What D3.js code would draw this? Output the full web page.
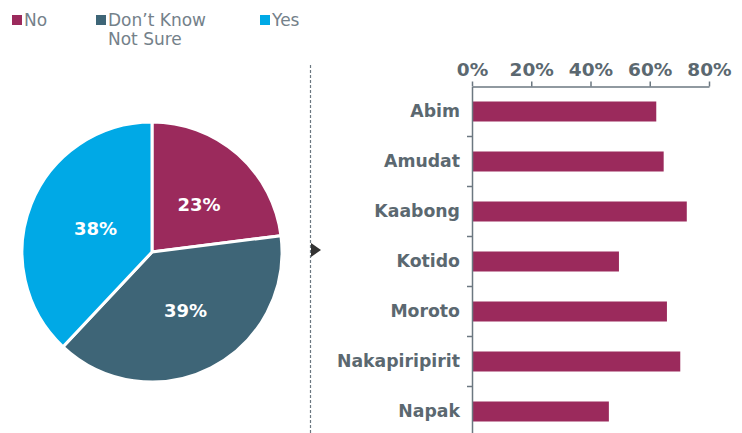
<!DOCTYPE html>
<html>
<head>
<meta charset="utf-8">
<script src="https://cdn.jsdelivr.net/npm/d3@7"></script>
<style>
  body { margin: 0; background: #fff; }
  svg { display: block; font-family: "DejaVu Sans", Verdana, sans-serif; }
</style>
</head>
<body>
<div id="chart"></div>
<script>
// Pie data
const pieLabels = ['No', 'Don\u2019t Know\nNot Sure', 'Yes'];
const pieValues = [23, 39, 38];
const pieColors = ['#9b2a5c', '#3e6577', '#00a9e6'];

// Bar data
const districts = ['Abim', 'Amudat', 'Kaabong', 'Kotido', 'Moroto', 'Nakapiripirit', 'Napak'];
const districtValues = [62.2, 64.7, 72.5, 49.6, 65.8, 70.3, 46.2];
const xTicks = [0, 20, 40, 60, 80];

const W = 742, H = 433;
const textGray = '#5b6870';
const legendGray = '#74818a';
const axisGray = '#6b7780';

const svg = d3.select('#chart')
    .append('svg')
    .attr('width', W)
    .attr('height', H);

// Legend
const legendX = [12, 96, 260];
const legend = svg.selectAll('.legend')
    .data(pieLabels)
    .enter()
    .append('g')
    .attr('class', 'legend')
    .attr('transform', (d, i) => `translate(${legendX[i]},0)`);

legend.append('rect')
    .attr('x', 0)
    .attr('y', 15)
    .attr('width', 10)
    .attr('height', 10)
    .attr('fill', (d, i) => pieColors[i]);

legend.append('text')
    .attr('x', 12)
    .attr('y', 26)
    .style('font-size', '17px')
    .style('fill', legendGray)
    .selectAll('tspan')
    .data(d => d.split('\n'))
    .enter()
    .append('tspan')
    .attr('x', 12)
    .attr('dy', (d, i) => i === 0 ? 0 : 19)
    .text(d => d);

// Pie
const radius = 130;
const pieG = svg.append('g')
    .attr('transform', 'translate(152,252)');

const pie = d3.pie().sort(null).value(d => d);
const arc = d3.arc().innerRadius(0).outerRadius(radius);

const arcs = pie(pieValues);

pieG.selectAll('path')
    .data(arcs)
    .enter()
    .append('path')
    .attr('d', arc)
    .attr('fill', (d, i) => pieColors[i])
    .attr('stroke', '#fff')
    .attr('stroke-width', 3);

// Labels sit a little right of the centroid, as in the original
pieG.selectAll('.pie-label')
    .data(arcs)
    .enter()
    .append('text')
    .attr('class', 'pie-label')
    .attr('transform', d => {
        const c = arc.centroid(d);
        return `translate(${c[0] + 4},${c[1] + 1})`;
    })
    .attr('dy', '0.35em')
    .attr('text-anchor', 'middle')
    .style('font-size', '18px')
    .style('font-weight', 'bold')
    .style('fill', '#fff')
    .text(d => d.data + '%');

// Dashed divider with arrow
svg.append('line')
    .attr('x1', 310.5)
    .attr('x2', 310.5)
    .attr('y1', 65)
    .attr('y2', H)
    .attr('stroke', axisGray)
    .attr('stroke-width', 1.2)
    .attr('stroke-dasharray', '3,2');

svg.append('path')
    .attr('d', 'M311,243 L321,250 L311,257 Z')
    .attr('fill', '#333');

// Bar chart
const xScale = d3.scaleLinear()
    .domain([0, 80])
    .range([472, 709]);

const yScale = d3.scaleBand()
    .domain(districts)
    .range([86.5, 436.5])
    .paddingInner(0.6)
    .paddingOuter(0.3);

svg.selectAll('.bar')
    .data(districts)
    .enter()
    .append('rect')
    .attr('class', 'bar')
    .attr('x', xScale(0))
    .attr('y', d => yScale(d))
    .attr('width', (d, i) => xScale(districtValues[i]) - xScale(0))
    .attr('height', yScale.bandwidth())
    .attr('fill', '#9b2a5c');

// Top axis
const xAxisG = svg.append('g')
    .attr('class', 'x-axis')
    .attr('transform', 'translate(0,86.5)')
    .call(d3.axisTop(xScale)
        .tickValues(xTicks)
        .tickSize(5)
        .tickSizeOuter(0)
        .tickPadding(6)
        .tickFormat(d => d + '%'));

xAxisG.select('.domain').attr('stroke', axisGray).attr('stroke-width', 1.5);
xAxisG.selectAll('.tick line').attr('stroke', axisGray).attr('stroke-width', 1.5);
xAxisG.selectAll('.tick text')
    .style('font-family', '"DejaVu Sans", Verdana, sans-serif')
    .style('font-size', '18.5px')
    .style('font-weight', 'bold')
    .style('fill', textGray);

// Left axis (labels only, ticks at band boundaries)
const yAxisG = svg.append('g')
    .attr('class', 'y-axis')
    .attr('transform', `translate(${xScale(0)},0)`)
    .call(d3.axisLeft(yScale).tickSize(0).tickPadding(12));

yAxisG.select('.domain').attr('stroke', axisGray).attr('stroke-width', 1.5);
yAxisG.selectAll('.tick text')
    .style('font-family', '"DejaVu Sans", Verdana, sans-serif')
    .style('font-size', '17.3px')
    .style('font-weight', 'bold')
    .style('fill', textGray);

yAxisG.selectAll('.boundary')
    .data(districts.slice(1))
    .enter()
    .append('line')
    .attr('class', 'boundary')
    .attr('x1', -5)
    .attr('x2', 0)
    .attr('y1', d => yScale(d) - yScale.step() * yScale.paddingInner() / 2)
    .attr('y2', d => yScale(d) - yScale.step() * yScale.paddingInner() / 2)
    .attr('stroke', axisGray)
    .attr('stroke-width', 1.5);
</script>
</body>
</html>
